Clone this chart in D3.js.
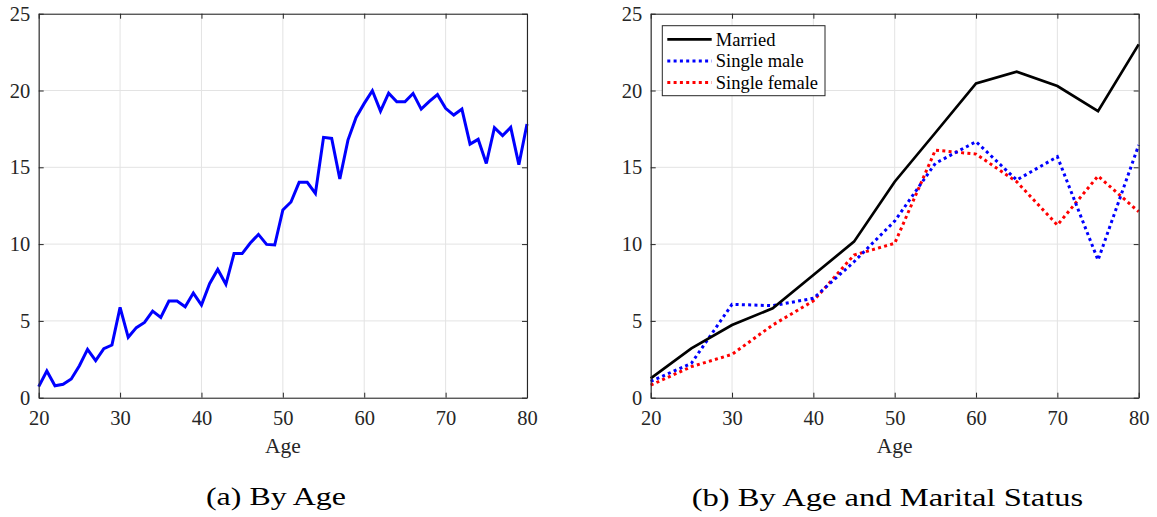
<!DOCTYPE html>
<html>
<head>
<meta charset="utf-8">
<script src="https://cdn.jsdelivr.net/npm/d3@7"></script>
<style>
  html, body { margin: 0; padding: 0; background: #fff; }
  svg { display: block; }
  text { font-family: "Liberation Serif", "Times New Roman", serif; fill: #262626; }
</style>
</head>
<body>
<svg id="chart" width="1157" height="517"></svg>
<script>
// ---------- data ----------
const agesA = d3.range(20, 81);
const valuesA = [
  0.72, 1.74, 0.78, 0.87, 1.22, 2.08, 3.15, 2.41, 3.19, 3.43,
  5.88, 3.93, 4.56, 4.90, 5.64, 5.23, 6.29, 6.29, 5.92, 6.81,
  6.03, 7.42, 8.35, 7.38, 9.38, 9.38, 10.07, 10.63, 9.98, 9.94,
  12.22, 12.74, 14.02, 14.02, 13.30, 16.95, 16.88, 14.24, 16.77, 18.25,
  19.16, 19.99, 18.66, 19.83, 19.27, 19.27, 19.81, 18.79, 19.29, 19.73,
  18.84, 18.40, 18.79, 16.51, 16.82, 15.25, 17.58, 17.06, 17.60, 15.17,
  17.82
];
const agesB = [20, 25, 30, 35, 40, 45, 50, 55, 60, 65, 70, 75, 80];
const married      = [1.26, 3.21, 4.73, 5.82, 7.99, 10.16, 14.06, 17.25, 20.46, 21.22, 20.29, 18.66, 23.0];
const singleMale   = [1.06, 2.24, 6.08, 5.99, 6.47, 8.85, 11.5, 15.26, 16.67, 14.17, 15.69, 8.96, 16.45];
const singleFemale = [0.82, 2.02, 2.82, 4.73, 6.30, 9.29, 10.05, 16.12, 15.86, 14.06, 11.24, 14.43, 12.11];
const xTicks = [20, 30, 40, 50, 60, 70, 80];
const yTicks = [0, 5, 10, 15, 20, 25];
const seriesNames = ["Married", "Single male", "Single female"];
const xLabel = "Age";
const captionA = "(a) By Age";
const captionB = "(b) By Age and Marital Status";

// ---------- drawing ----------
const svg = d3.select("#chart");
const axisColor = "#262626";
const gridColor = "#e3e3e3";

function makePanel(x0, x1) {
  const top = 13.7, bottom = 397.7;
  const x = d3.scaleLinear().domain([20, 80]).range([x0, x1]);
  const y = d3.scaleLinear().domain([0, 25]).range([bottom, top]);
  const g = svg.append("g");
  // grid
  g.append("g").selectAll("line.vg").data(xTicks).join("line")
    .attr("x1", d => x(d)).attr("x2", d => x(d)).attr("y1", top).attr("y2", bottom)
    .attr("stroke", gridColor).attr("stroke-width", 1);
  g.append("g").selectAll("line.hg").data(yTicks).join("line")
    .attr("y1", d => y(d)).attr("y2", d => y(d)).attr("x1", x0).attr("x2", x1)
    .attr("stroke", gridColor).attr("stroke-width", 1);
  return { g, x, y, top, bottom, x0, x1 };
}

function finishAxes(p) {
  const { g, x, y, top, bottom, x0, x1 } = p;
  const styleAxis = sel => {
    sel.select(".domain").attr("stroke", axisColor).attr("stroke-width", 1.1);
    sel.selectAll(".tick line").attr("stroke", axisColor).attr("stroke-width", 1);
    sel.selectAll(".tick text").attr("fill", axisColor)
      .style("font-family", '"Liberation Serif", serif').style("font-size", "20.5px");
  };
  g.append("g").attr("transform", `translate(0,${bottom})`)
    .call(d3.axisBottom(x).tickValues(xTicks).tickSizeInner(-5).tickSizeOuter(0).tickPadding(12.7))
    .call(styleAxis);
  g.append("g").attr("transform", `translate(0,${top})`)
    .call(d3.axisTop(x).tickValues(xTicks).tickSizeInner(-5).tickSizeOuter(0).tickFormat(""))
    .call(styleAxis);
  g.append("g").attr("transform", `translate(${x0},0)`)
    .call(d3.axisLeft(y).tickValues(yTicks).tickSizeInner(-5).tickSizeOuter(0).tickPadding(8.5))
    .call(styleAxis);
  g.append("g").attr("transform", `translate(${x1},0)`)
    .call(d3.axisRight(y).tickValues(yTicks).tickSizeInner(-5).tickSizeOuter(0).tickFormat(""))
    .call(styleAxis);
  g.append("text").attr("x", (x0 + x1) / 2).attr("y", 452.7)
    .attr("text-anchor", "middle").style("font-size", "21.5px").text(xLabel);
}

// Panel A
const pA = makePanel(38.7, 527);
const lineA = d3.line().x((d, i) => pA.x(agesA[i])).y(d => pA.y(d));
pA.g.append("path").datum(valuesA).attr("d", lineA)
  .attr("fill", "none").attr("stroke", "#0000ff").attr("stroke-width", 3)
  .attr("stroke-linejoin", "miter").attr("stroke-miterlimit", 3);
finishAxes(pA);

// Panel B
const pB = makePanel(650.7, 1138.7);
const lineB = d3.line().x((d, i) => pB.x(agesB[i])).y(d => pB.y(d));
const seriesB = [
  { name: seriesNames[0], values: married, color: "#000000", dash: null, width: 2.7 },
  { name: seriesNames[1], values: singleMale, color: "#0000ff", dash: "3,3.3", width: 3 },
  { name: seriesNames[2], values: singleFemale, color: "#ff0000", dash: "3,3.3", width: 3 }
];
// draw female first, then male, then married (married on top)
[seriesB[2], seriesB[1], seriesB[0]].forEach(s => {
  pB.g.append("path").datum(s.values).attr("d", lineB)
    .attr("fill", "none").attr("stroke", s.color).attr("stroke-width", s.width)
    .attr("stroke-dasharray", s.dash).attr("stroke-linejoin", "miter").attr("stroke-miterlimit", 3);
});
finishAxes(pB);

// Legend
const leg = svg.append("g");
leg.append("rect").attr("x", 662.3).attr("y", 25.7).attr("width", 162.7).attr("height", 70)
  .attr("fill", "#fff").attr("stroke", axisColor).attr("stroke-width", 1);
seriesB.forEach((s, i) => {
  const cy = 39.3 + i * 21.6;
  leg.append("line").attr("x1", 667.3).attr("x2", 711.7).attr("y1", cy).attr("y2", cy)
    .attr("stroke", s.color).attr("stroke-width", s.width).attr("stroke-dasharray", s.dash);
  leg.append("text").attr("x", 715.8).attr("y", cy + 6.4).style("font-size", "18.5px")
    .attr("fill", "#000").style("fill", "#000").text(s.name);
});

// Captions
svg.append("text").attr("x", 206).attr("y", 505)
  .attr("textLength", 140).attr("lengthAdjust", "spacingAndGlyphs")
  .style("font-size", "26px").style("fill", "#000").text(captionA);
svg.append("text").attr("x", 691.7).attr("y", 505.5)
  .attr("textLength", 391.6).attr("lengthAdjust", "spacingAndGlyphs")
  .style("font-size", "26px").style("fill", "#000").text(captionB);
</script>
</body>
</html>
